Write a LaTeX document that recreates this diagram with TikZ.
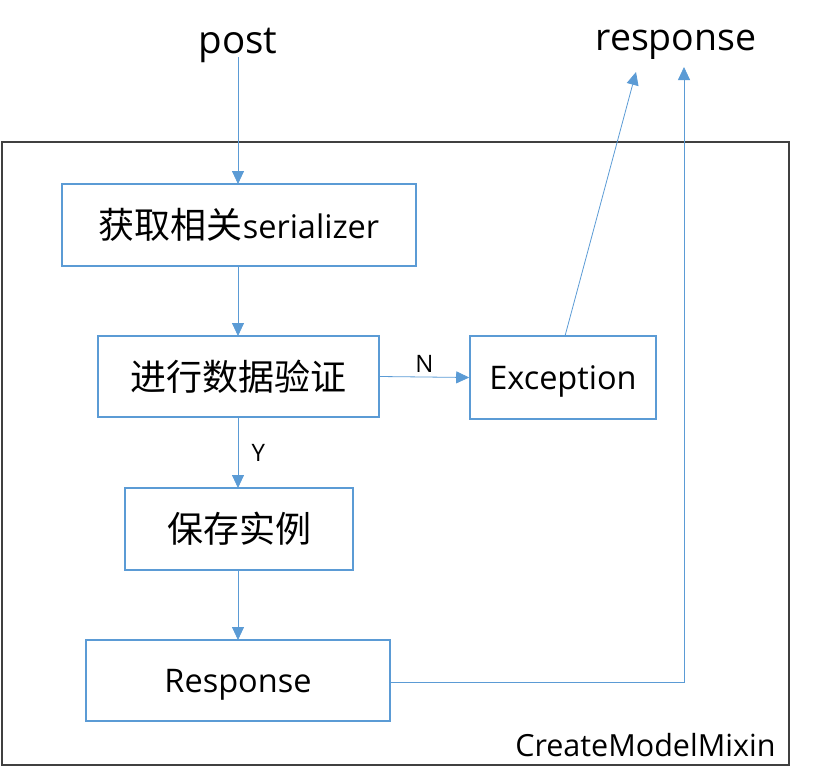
\documentclass[tikz,border=0pt]{standalone}
\usepackage{fontspec}
\setmainfont{Open Sans}
\newfontfamily\cjk{Noto Sans CJK SC}
\usetikzlibrary{arrows.meta}
\definecolor{boxblue}{HTML}{5B9BD5}
\definecolor{frame}{HTML}{404040}
\newcommand{\zh}[1]{{\cjk\fontsize{36}{40}\selectfont #1}}
\begin{document}
\begin{tikzpicture}[x=1pt,y=-1pt,
  bx/.style={draw=boxblue,line width=1.6pt,fill=white,inner sep=0pt},
  conn/.style={draw=boxblue,line width=0.8pt,-{Triangle[length=13pt,width=12pt]}},
  lbl/.style={font=\fontsize{24}{28}\selectfont},
  txt/.style={font=\fontsize{32.5}{38}\selectfont}]
\useasboundingbox (0,0) rectangle (835,777);
\draw[frame,line width=1.5pt] (2,142) rectangle (789,765);
\node[font=\fontsize{38.5}{44}\selectfont] (post) at (238,45) {post};
\node[font=\fontsize{37.5}{44}\selectfont] (resp) at (676,45) {response};
\node[bx,minimum width=354pt,minimum height=82pt,txt] (b1) at (239,225) {\zh{获取相关}serializer};
\node[bx,minimum width=281pt,minimum height=81pt,txt] (b2) at (238.5,376.5) {\zh{进行数据验证}};
\node[bx,minimum width=186pt,minimum height=83pt,txt,text depth=0pt] (ex) at (563,377.5) {Exception};
\node[bx,minimum width=228pt,minimum height=82pt,txt] (b3) at (239,529) {\zh{保存实例}};
\node[bx,minimum width=304pt,minimum height=81pt,txt,text depth=0pt] (rs) at (238,680.5) {Response};
\node[font=\fontsize{30.5}{36}\selectfont,anchor=south east] (cm) at (779,760) {CreateModelMixin};
\coordinate (t1) at (238,57);
\coordinate (er) at (636,72);
\coordinate (rr) at (684,67);
\coordinate (rc) at (684,682);
\draw[conn] (t1) -- (238,184);
\draw[conn] (238,266) -- (238,336);
\draw[conn] (b2.east) -- node[lbl,above=1pt] (n) {N} (ex.west);
\draw[conn] (238,417) -- node[lbl,right=10pt] (y) {Y} (238,488);
\draw[conn] (238,570) -- (238,640);
\draw[conn] (565,336) -- (er);
\draw[conn] (rs.east|-rc) -- (rc) -- (rr);
\end{tikzpicture}
\end{document}
